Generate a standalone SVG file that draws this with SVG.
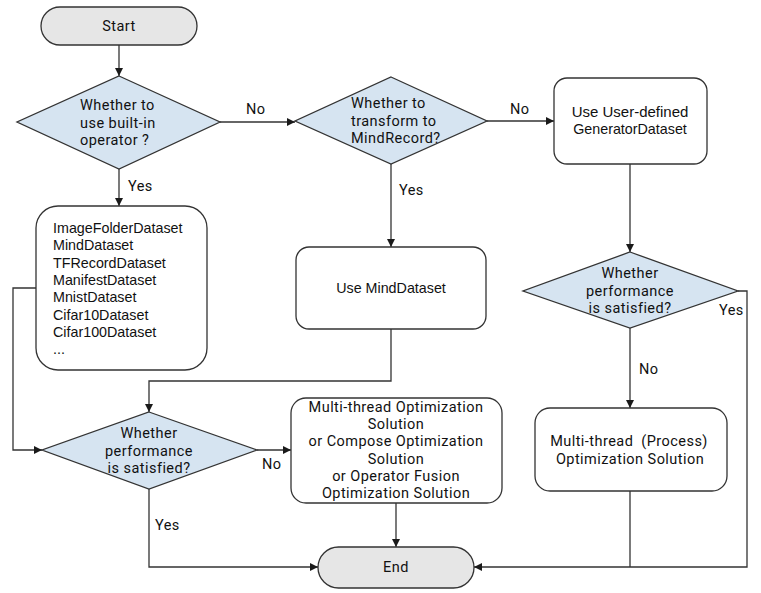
<svg xmlns="http://www.w3.org/2000/svg" width="761" height="593" viewBox="0 0 761 593">
<defs>
<marker id="arr" viewBox="0 0 10 10" refX="10" refY="5" markerWidth="8" markerHeight="8" markerUnits="userSpaceOnUse" orient="auto">
<path d="M0,0 L10,5 L0,10 z" fill="#1a1a1a"/>
</marker>
<style>
.term{fill:#e6e6e6;stroke:#333;stroke-width:1.3}
.dia{fill:#d6e4f1;stroke:#333;stroke-width:1.3}
.box{fill:#fff;stroke:#333;stroke-width:1.3}
.c{fill:none;stroke:#333;stroke-width:1.3}
.y{font-family:Roboto,"Noto Sans",sans-serif;font-size:14.5px;letter-spacing:0.45px;fill:#111}
.a{font-family:"Liberation Sans",Arial,sans-serif;font-size:14.3px;fill:#111}
.m{text-anchor:middle}
</style>
</defs>
<rect width="761" height="593" fill="#fff"/>
<g id="connectors">
<path class="c" d="M119,45 V76" marker-end="url(#arr)"/>
<path class="c" d="M220,122 H295" marker-end="url(#arr)"/>
<path class="c" d="M119,169 V206" marker-end="url(#arr)"/>
<path class="c" d="M487,121 H554" marker-end="url(#arr)"/>
<path class="c" d="M391,164 V247" marker-end="url(#arr)"/>
<path class="c" d="M630,164 V252" marker-end="url(#arr)"/>
<path class="c" d="M391,329 V381 H149 V412" marker-end="url(#arr)"/>
<path class="c" d="M36,288 H13 V450 H42" marker-end="url(#arr)"/>
<path class="c" d="M257,450 H291" marker-end="url(#arr)"/>
<path class="c" d="M149,489 V567 H318" marker-end="url(#arr)"/>
<path class="c" d="M396,503 V547" marker-end="url(#arr)"/>
<path class="c" d="M630,328 V408" marker-end="url(#arr)"/>
<path class="c" d="M630,491 V567"/>
<path class="c" d="M738,291 H747 V567 H474" marker-end="url(#arr)"/>
<text class="y" x="246" y="114">No</text>
<text class="y" x="128" y="191">Yes</text>
<text class="y" x="510" y="114">No</text>
<text class="y" x="399" y="195">Yes</text>
<text class="y" x="719" y="315">Yes</text>
<text class="y" x="639" y="374">No</text>
<text class="y" x="262" y="469">No</text>
<text class="y" x="155" y="530">Yes</text>
</g>
<g id="start">
<rect class="term" x="41" y="7" width="156" height="38" rx="19"/>
<text class="y m" x="119" y="31">Start</text>
</g>
<g id="d1">
<polygon class="dia" points="119,76 220,122 119,169 17,122"/>
<text class="y" x="80" y="110">Whether to</text>
<text class="y" x="80" y="127.5">use built-in</text>
<text class="y" x="80" y="145">operator ?</text>
</g>
<g id="d2">
<polygon class="dia" points="391,77 487,121 391,164 295,121"/>
<text class="y" x="351" y="108">Whether to</text>
<text class="y" x="351" y="125.5">transform to</text>
<text class="y" x="351" y="143">MindRecord?</text>
</g>
<g id="userdef">
<rect class="box" x="554" y="78" width="153" height="86" rx="13"/>
<text class="a m" x="630" y="117" style="font-size:15px">Use User-defined</text>
<text class="a m" x="630" y="134">GeneratorDataset</text>
</g>
<g id="builtin">
<rect class="box" x="36" y="206" width="171" height="164" rx="22"/>
<text class="a" x="53" y="233">ImageFolderDataset</text>
<text class="a" x="53" y="250">MindDataset</text>
<text class="a" x="53" y="267.5">TFRecordDataset</text>
<text class="a" x="53" y="285">ManifestDataset</text>
<text class="a" x="53" y="302">MnistDataset</text>
<text class="a" x="53" y="319.5">Cifar10Dataset</text>
<text class="a" x="53" y="336.5">Cifar100Dataset</text>
<text class="a" x="53" y="354">...</text>
</g>
<g id="mind">
<rect class="box" x="296" y="247" width="190" height="82" rx="13"/>
<text class="a m" x="391" y="293">Use MindDataset</text>
</g>
<g id="d3">
<polygon class="dia" points="630,252 738,291 630,328 523,291"/>
<text class="y m" x="630" y="278">Whether</text>
<text class="y m" x="630" y="295.5">performance</text>
<text class="y m" x="630" y="313">is satisfied?</text>
</g>
<g id="d4">
<polygon class="dia" points="149,412 257,450 149,489 42,450"/>
<text class="y m" x="149" y="438">Whether</text>
<text class="y m" x="149" y="455.5">performance</text>
<text class="y m" x="149" y="473">is satisfied?</text>
</g>
<g id="opt">
<rect class="box" x="291" y="398" width="211" height="105" rx="15"/>
<text class="y m" x="396" y="412">Multi-thread Optimization</text>
<text class="y m" x="396" y="429.2">Solution</text>
<text class="y m" x="396" y="446.4">or Compose Optimization</text>
<text class="y m" x="396" y="463.6">Solution</text>
<text class="y m" x="396" y="480.8">or Operator Fusion</text>
<text class="y m" x="396" y="498">Optimization Solution</text>
</g>
<g id="proc">
<rect class="box" x="535" y="408" width="192" height="83" rx="15"/>
<text class="y m" x="629" y="446" style="white-space:pre">Multi-thread  (Process)</text>
<text class="y m" x="630" y="463.5">Optimization Solution</text>
</g>
<g id="end">
<rect class="term" x="318" y="547" width="156" height="41" rx="20.5"/>
<text class="y m" x="396" y="572">End</text>
</g>
</svg>
